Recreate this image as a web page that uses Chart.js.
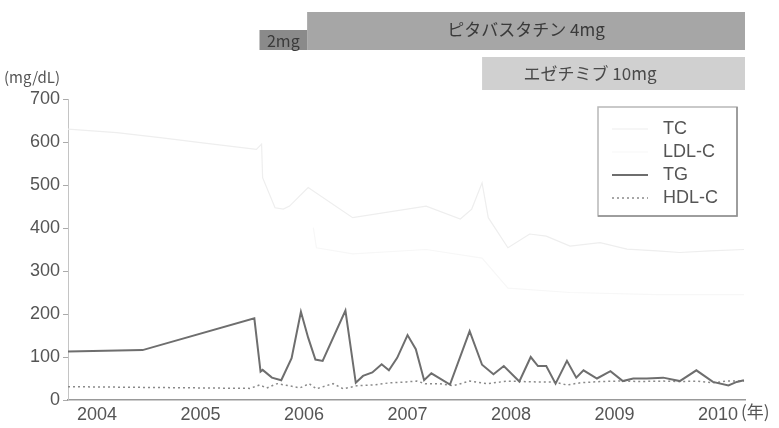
<!DOCTYPE html>
<html>
<head>
<meta charset="utf-8">
<script src="https://cdn.jsdelivr.net/npm/chart.js@4/dist/chart.umd.min.js"></script>
<style>
html,body{margin:0;padding:0;background:#fff;}
#c{display:block;}
</style>
</head>
<body>
<canvas id="c" width="779" height="428"></canvas>
<script>
// ---- data (x in decimal years) ----
const yearTicks = [2004, 2005, 2006, 2007, 2008, 2009, 2010];
const yTicks = [0, 100, 200, 300, 400, 500, 600, 700];

const tcYears  = [2003.72, 2004.19, 2004.61, 2005.02, 2005.54, 2005.59, 2005.60, 2005.72, 2005.80, 2005.86, 2006.04, 2006.47, 2007.18, 2007.51, 2007.62, 2007.72, 2007.78, 2007.97, 2008.18, 2008.34, 2008.57, 2008.86, 2009.12, 2009.41, 2009.63, 2009.92, 2010.25];
const tcValues = [630, 622, 610, 598, 583, 595, 517, 447, 444, 451, 494, 424, 451, 421, 444, 505, 424, 354, 386, 381, 358, 366, 351, 347, 343, 347, 350];

const ldlYears  = [2006.09, 2006.12, 2006.47, 2007.18, 2007.72, 2007.97, 2008.57, 2009.41, 2010.25];
const ldlValues = [401, 354, 340, 350, 330, 260, 250, 245, 245];

const tgYears  = [2003.72, 2004.44, 2005.52, 2005.58, 2005.60, 2005.69, 2005.78, 2005.88, 2005.97, 2006.04, 2006.11, 2006.18, 2006.40, 2006.50, 2006.57, 2006.66, 2006.75, 2006.82, 2006.90, 2007.00, 2007.08, 2007.16, 2007.23, 2007.41, 2007.60, 2007.72, 2007.83, 2007.93, 2008.08, 2008.19, 2008.26, 2008.34, 2008.43, 2008.54, 2008.63, 2008.70, 2008.83, 2008.96, 2009.08, 2009.18, 2009.31, 2009.47, 2009.63, 2009.79, 2009.95, 2010.10, 2010.18, 2010.25];
const tgValues = [113, 116, 190, 66, 70, 52, 46, 97, 205, 145, 94, 91, 208, 40, 56, 64, 83, 69, 98, 151, 118, 46, 62, 36, 160, 82, 60, 79, 43, 100, 79, 79, 38, 91, 52, 69, 50, 67, 44, 50, 50, 52, 44, 69, 42, 34, 42, 46];

const hdlYears  = [2003.72, 2005.48, 2005.57, 2005.64, 2005.74, 2005.86, 2005.96, 2006.05, 2006.12, 2006.20, 2006.28, 2006.38, 2006.51, 2006.67, 2006.83, 2006.99, 2007.09, 2007.17, 2007.31, 2007.44, 2007.60, 2007.77, 2007.96, 2008.09, 2008.25, 2008.41, 2008.54, 2008.67, 2008.86, 2009.05, 2009.25, 2009.47, 2009.63, 2009.80, 2009.95, 2010.09, 2010.25];
const hdlValues = [31, 27, 35, 28, 38, 33, 28, 38, 26, 32, 38, 26, 33, 35, 40, 42, 44, 38, 38, 33, 44, 38, 44, 43, 42, 42, 35, 40, 43, 44, 43, 44, 43, 44, 40, 44, 44];

// medication periods (start year; bars run to the end of the axis)
const drugLabels = ['2mg', 'ピタバスタチン 4mg', 'エゼチミブ 10mg'];
const drugStarts = [2005.57, 2006.03, 2007.72];
const drugEnds   = [2006.03, 2010.26, 2010.26];

const xMin = 2003.72, xMax = 2010.26;

function pts(xs, ys){ return xs.map((x,i)=>({x:x, y:ys[i]})); }

const FONT = '"Liberation Sans", Arial, sans-serif';
const JFONT = '"Noto Sans CJK JP", "Liberation Sans", sans-serif';

const overlay = {
  id: 'overlay',
  afterDraw(chart){
    const ctx = chart.ctx, xs = chart.scales.x;
    ctx.save();
    // drug bars
    const barY = [[30,50],[12,50],[57,90]];
    const barCol = ['#8a8a8a','#a6a6a6','#d0d0d0'];
    for (let i=0;i<drugLabels.length;i++){
      const x0 = xs.getPixelForValue(drugStarts[i]);
      const x1 = xs.getPixelForValue(drugEnds[i]);
      ctx.fillStyle = barCol[i];
      ctx.fillRect(x0, barY[i][0], x1-x0, barY[i][1]-barY[i][0]);
    }
    ctx.fillStyle = '#3a3a3a';
    ctx.textBaseline = 'middle';
    ctx.font = '16px ' + JFONT;
    ctx.textAlign = 'center';
    ctx.fillText(drugLabels[0], (xs.getPixelForValue(drugStarts[0])+xs.getPixelForValue(drugEnds[0]))/2, 41);
    ctx.font = '17px ' + JFONT;
    ctx.fillText(drugLabels[1], 526, 30);
    ctx.fillStyle = '#4a4a4a';
    ctx.fillText(drugLabels[2], 590, 74);

    // units
    ctx.fillStyle = '#555';
    ctx.font = '15px ' + JFONT;
    ctx.textAlign = 'left';
    ctx.fillText('(mg/dL)', 4, 77);
    ctx.font = '17px ' + JFONT;
    ctx.fillText('(年)', 741, 412);

    // legend box
    ctx.fillStyle = '#fff';
    ctx.fillRect(598, 107, 139, 109);
    ctx.strokeStyle = '#b8b8b8';
    ctx.lineWidth = 1.5;
    ctx.strokeRect(598, 107, 139, 109);
    ctx.strokeStyle = '#909090';
    ctx.beginPath(); ctx.moveTo(598, 216); ctx.lineTo(737, 216); ctx.lineTo(737,107); ctx.stroke();
    const rows = [129, 152, 175, 198];
    chart.data.datasets.forEach((ds, i) => {
      ctx.save();
      ctx.strokeStyle = ds.borderColor;
      ctx.lineWidth = ds.borderWidth;
      ctx.setLineDash(ds.borderDash || []);
      ctx.beginPath(); ctx.moveTo(612, rows[i]); ctx.lineTo(648, rows[i]); ctx.stroke();
      ctx.restore();
      ctx.fillStyle = '#555';
      ctx.font = '18px ' + FONT;
      ctx.textAlign = 'left';
      ctx.textBaseline = 'middle';
      ctx.fillText(ds.label, 663, rows[i]);
    });
    ctx.restore();
  }
};

new Chart(document.getElementById('c'), {
  type: 'line',
  data: {
    datasets: [
      { label: 'TC', data: pts(tcYears, tcValues), borderColor: '#eeeeee', borderWidth: 1.2, pointRadius: 0, tension: 0 },
      { label: 'LDL-C', data: pts(ldlYears, ldlValues), borderColor: '#f7f7f7', borderWidth: 1.2, pointRadius: 0, tension: 0 },
      { label: 'TG', data: pts(tgYears, tgValues), borderColor: '#6e6e6e', borderWidth: 2, pointRadius: 0, tension: 0 },
      { label: 'HDL-C', data: pts(hdlYears, hdlValues), borderColor: '#8a8a8a', borderWidth: 1.5, borderDash: [2, 3], pointRadius: 0, tension: 0 }
    ]
  },
  options: {
    responsive: false,
    animation: false,
    devicePixelRatio: 1,
    layout: { padding: { top: 99, right: 34, left: 0, bottom: 0 } },
    plugins: { legend: { display: false }, tooltip: { enabled: false } },
    scales: {
      x: {
        type: 'linear', min: xMin, max: xMax,
        afterBuildTicks(s){ s.ticks = yearTicks.map(v => ({ value: v })); },
        afterFit(s){ s.height = 28; },
        grid: { display: false, drawTicks: false },
        border: { display: true, color: '#999', width: 1.5 },
        ticks: { padding: 4, color: '#555', font: { family: FONT, size: 18 }, maxRotation: 0, autoSkip: false, callback: v => String(v) }
      },
      y: {
        min: 0, max: 700,
        afterBuildTicks(s){ s.ticks = yTicks.map(v => ({ value: v })); },
        afterFit(s){ s.width = 68; },
        grid: { drawOnChartArea: false, drawTicks: true, tickLength: 5, color: '#aaa' },
        border: { display: true, color: '#c4c4c4', width: 1 },
        ticks: { padding: 3, color: '#555', font: { family: FONT, size: 18 } }
      }
    }
  },
  plugins: [overlay]
});
</script>
</body>
</html>
